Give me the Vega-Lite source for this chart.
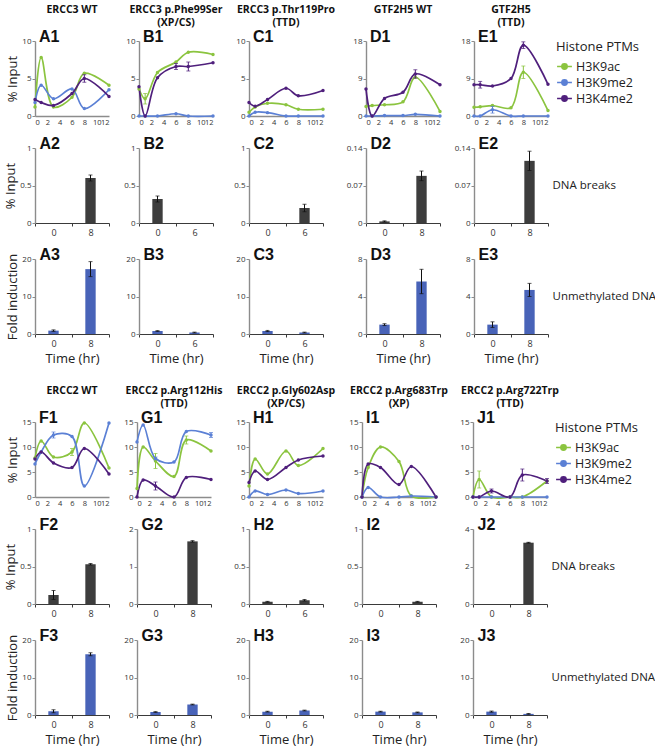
{
"$schema":"https://vega.github.io/schema/vega-lite/v6.json",
"background":"white",
"padding":{"left":4,"top":4,"right":0,"bottom":0},
"datasets":{
"lines":[
{"panel":"A1","series":"H3K9ac","t":0,"v":1.2},{"panel":"A1","series":"H3K9ac","t":1,"v":7.8},{"panel":"A1","series":"H3K9ac","t":3,"v":1.2},{"panel":"A1","series":"H3K9ac","t":6,"v":2.5},{"panel":"A1","series":"H3K9ac","t":8,"v":5.7},{"panel":"A1","series":"H3K9ac","t":12,"v":4.1},
{"panel":"A1","series":"H3K9me2","t":0,"v":1.8},{"panel":"A1","series":"H3K9me2","t":1,"v":4.1},{"panel":"A1","series":"H3K9me2","t":3,"v":2.3},{"panel":"A1","series":"H3K9me2","t":6,"v":3.6},{"panel":"A1","series":"H3K9me2","t":8,"v":1.0},{"panel":"A1","series":"H3K9me2","t":12,"v":3.5},
{"panel":"A1","series":"H3K4me2","t":0,"v":2.2},{"panel":"A1","series":"H3K4me2","t":1,"v":1.8},{"panel":"A1","series":"H3K4me2","t":3,"v":1.4},{"panel":"A1","series":"H3K4me2","t":6,"v":3.0},{"panel":"A1","series":"H3K4me2","t":8,"v":5.0,"err":0.5},{"panel":"A1","series":"H3K4me2","t":12,"v":2.6},
{"panel":"B1","series":"H3K9ac","t":0,"v":3.6},{"panel":"B1","series":"H3K9ac","t":1,"v":2.3,"err":0.7},{"panel":"B1","series":"H3K9ac","t":3,"v":5.8},{"panel":"B1","series":"H3K9ac","t":6,"v":7.2},{"panel":"B1","series":"H3K9ac","t":8,"v":8.5},{"panel":"B1","series":"H3K9ac","t":12,"v":8.2},
{"panel":"B1","series":"H3K9me2","t":0,"v":0},{"panel":"B1","series":"H3K9me2","t":1,"v":0},{"panel":"B1","series":"H3K9me2","t":3,"v":0},{"panel":"B1","series":"H3K9me2","t":6,"v":0.3},{"panel":"B1","series":"H3K9me2","t":8,"v":0},{"panel":"B1","series":"H3K9me2","t":12,"v":0},
{"panel":"B1","series":"H3K4me2","t":0,"v":3.9},{"panel":"B1","series":"H3K4me2","t":1,"v":0},{"panel":"B1","series":"H3K4me2","t":3,"v":5.1},{"panel":"B1","series":"H3K4me2","t":6,"v":6.6,"err":0.4},{"panel":"B1","series":"H3K4me2","t":8,"v":6.6,"err":0.6},{"panel":"B1","series":"H3K4me2","t":12,"v":7.1},
{"panel":"C1","series":"H3K9ac","t":0,"v":0.5},{"panel":"C1","series":"H3K9ac","t":1,"v":1.2},{"panel":"C1","series":"H3K9ac","t":3,"v":1.7},{"panel":"C1","series":"H3K9ac","t":6,"v":1.5},{"panel":"C1","series":"H3K9ac","t":8,"v":0.9},{"panel":"C1","series":"H3K9ac","t":12,"v":0.9},
{"panel":"C1","series":"H3K9me2","t":0,"v":0},{"panel":"C1","series":"H3K9me2","t":1,"v":0.5},{"panel":"C1","series":"H3K9me2","t":3,"v":0.45},{"panel":"C1","series":"H3K9me2","t":6,"v":0},{"panel":"C1","series":"H3K9me2","t":8,"v":0},{"panel":"C1","series":"H3K9me2","t":12,"v":0},
{"panel":"C1","series":"H3K4me2","t":0,"v":1.8},{"panel":"C1","series":"H3K4me2","t":1,"v":1.3},{"panel":"C1","series":"H3K4me2","t":3,"v":2.2},{"panel":"C1","series":"H3K4me2","t":6,"v":3.7},{"panel":"C1","series":"H3K4me2","t":8,"v":2.7},{"panel":"C1","series":"H3K4me2","t":12,"v":3.4},
{"panel":"D1","series":"H3K9ac","t":0,"v":2.3},{"panel":"D1","series":"H3K9ac","t":1,"v":2.5},{"panel":"D1","series":"H3K9ac","t":3,"v":2.7},{"panel":"D1","series":"H3K9ac","t":6,"v":3.4},{"panel":"D1","series":"H3K9ac","t":8,"v":9.3},{"panel":"D1","series":"H3K9ac","t":12,"v":1.1},
{"panel":"D1","series":"H3K9me2","t":0,"v":0},{"panel":"D1","series":"H3K9me2","t":1,"v":0},{"panel":"D1","series":"H3K9me2","t":3,"v":0.1},{"panel":"D1","series":"H3K9me2","t":6,"v":0.1},{"panel":"D1","series":"H3K9me2","t":8,"v":0.4},{"panel":"D1","series":"H3K9me2","t":12,"v":0},
{"panel":"D1","series":"H3K4me2","t":0,"v":6.5},{"panel":"D1","series":"H3K4me2","t":1,"v":0},{"panel":"D1","series":"H3K4me2","t":3,"v":4.2},{"panel":"D1","series":"H3K4me2","t":6,"v":5.7},{"panel":"D1","series":"H3K4me2","t":8,"v":10.1,"err":1.0},{"panel":"D1","series":"H3K4me2","t":12,"v":7.5},
{"panel":"E1","series":"H3K9ac","t":0,"v":2.1},{"panel":"E1","series":"H3K9ac","t":1,"v":2.2},{"panel":"E1","series":"H3K9ac","t":3,"v":2.5},{"panel":"E1","series":"H3K9ac","t":6,"v":2.0},{"panel":"E1","series":"H3K9ac","t":8,"v":10.5,"err":1.5},{"panel":"E1","series":"H3K9ac","t":12,"v":1.3},
{"panel":"E1","series":"H3K9me2","t":0,"v":0},{"panel":"E1","series":"H3K9me2","t":1,"v":0},{"panel":"E1","series":"H3K9me2","t":3,"v":1.5,"err":0.8},{"panel":"E1","series":"H3K9me2","t":6,"v":0},{"panel":"E1","series":"H3K9me2","t":8,"v":0},{"panel":"E1","series":"H3K9me2","t":12,"v":0},
{"panel":"E1","series":"H3K4me2","t":0,"v":7.5},{"panel":"E1","series":"H3K4me2","t":1,"v":7.5,"err":0.8},{"panel":"E1","series":"H3K4me2","t":3,"v":7.2},{"panel":"E1","series":"H3K4me2","t":6,"v":9.0},{"panel":"E1","series":"H3K4me2","t":8,"v":17.0,"err":0.8},{"panel":"E1","series":"H3K4me2","t":12,"v":7.6},
{"panel":"F1","series":"H3K9ac","t":0,"v":7.8},{"panel":"F1","series":"H3K9ac","t":1,"v":11.2},{"panel":"F1","series":"H3K9ac","t":3,"v":8.0},{"panel":"F1","series":"H3K9ac","t":6,"v":9.0,"err":0.7},{"panel":"F1","series":"H3K9ac","t":8,"v":14.8},{"panel":"F1","series":"H3K9ac","t":12,"v":5.8},
{"panel":"F1","series":"H3K9me2","t":0,"v":6.6},{"panel":"F1","series":"H3K9me2","t":1,"v":9.0},{"panel":"F1","series":"H3K9me2","t":3,"v":12.4,"err":0.6},{"panel":"F1","series":"H3K9me2","t":6,"v":12.1},{"panel":"F1","series":"H3K9me2","t":8,"v":2.2},{"panel":"F1","series":"H3K9me2","t":12,"v":14.8},
{"panel":"F1","series":"H3K4me2","t":0,"v":7.6},{"panel":"F1","series":"H3K4me2","t":1,"v":9.0},{"panel":"F1","series":"H3K4me2","t":3,"v":6.8},{"panel":"F1","series":"H3K4me2","t":6,"v":5.9},{"panel":"F1","series":"H3K4me2","t":8,"v":9.7},{"panel":"F1","series":"H3K4me2","t":12,"v":4.6},
{"panel":"G1","series":"H3K9ac","t":0,"v":1.7},{"panel":"G1","series":"H3K9ac","t":1,"v":10.0},{"panel":"G1","series":"H3K9ac","t":3,"v":7.2,"err":1.5},{"panel":"G1","series":"H3K9ac","t":6,"v":4.1},{"panel":"G1","series":"H3K9ac","t":8,"v":11.4,"err":0.8},{"panel":"G1","series":"H3K9ac","t":12,"v":9.2},
{"panel":"G1","series":"H3K9me2","t":0,"v":11.0},{"panel":"G1","series":"H3K9me2","t":1,"v":14.4},{"panel":"G1","series":"H3K9me2","t":3,"v":7.7,"err":0.3},{"panel":"G1","series":"H3K9me2","t":6,"v":7.0},{"panel":"G1","series":"H3K9me2","t":8,"v":13.1},{"panel":"G1","series":"H3K9me2","t":12,"v":12.4,"err":0.5},
{"panel":"G1","series":"H3K4me2","t":0,"v":0},{"panel":"G1","series":"H3K4me2","t":1,"v":3.4},{"panel":"G1","series":"H3K4me2","t":3,"v":2.2,"err":0.8},{"panel":"G1","series":"H3K4me2","t":6,"v":0},{"panel":"G1","series":"H3K4me2","t":8,"v":3.9},{"panel":"G1","series":"H3K4me2","t":12,"v":3.5},
{"panel":"H1","series":"H3K9ac","t":0,"v":2.2},{"panel":"H1","series":"H3K9ac","t":1,"v":7.6},{"panel":"H1","series":"H3K9ac","t":3,"v":4.6},{"panel":"H1","series":"H3K9ac","t":6,"v":9.2},{"panel":"H1","series":"H3K9ac","t":8,"v":6.3},{"panel":"H1","series":"H3K9ac","t":12,"v":9.7},
{"panel":"H1","series":"H3K9me2","t":0,"v":0},{"panel":"H1","series":"H3K9me2","t":1,"v":1.2},{"panel":"H1","series":"H3K9me2","t":3,"v":0.5},{"panel":"H1","series":"H3K9me2","t":6,"v":1.4},{"panel":"H1","series":"H3K9me2","t":8,"v":0.7},{"panel":"H1","series":"H3K9me2","t":12,"v":1.2},
{"panel":"H1","series":"H3K4me2","t":0,"v":2.9},{"panel":"H1","series":"H3K4me2","t":1,"v":5.2},{"panel":"H1","series":"H3K4me2","t":3,"v":3.5},{"panel":"H1","series":"H3K4me2","t":6,"v":5.9},{"panel":"H1","series":"H3K4me2","t":8,"v":7.4},{"panel":"H1","series":"H3K4me2","t":12,"v":8.2},
{"panel":"I1","series":"H3K9ac","t":0,"v":0},{"panel":"I1","series":"H3K9ac","t":1,"v":5.9},{"panel":"I1","series":"H3K9ac","t":3,"v":10.0},{"panel":"I1","series":"H3K9ac","t":6,"v":7.1},{"panel":"I1","series":"H3K9ac","t":8,"v":0.2},{"panel":"I1","series":"H3K9ac","t":12,"v":0},
{"panel":"I1","series":"H3K9me2","t":0,"v":0},{"panel":"I1","series":"H3K9me2","t":1,"v":1.9},{"panel":"I1","series":"H3K9me2","t":3,"v":0},{"panel":"I1","series":"H3K9me2","t":6,"v":0},{"panel":"I1","series":"H3K9me2","t":8,"v":0.2},{"panel":"I1","series":"H3K9me2","t":12,"v":0},
{"panel":"I1","series":"H3K4me2","t":0,"v":0},{"panel":"I1","series":"H3K4me2","t":1,"v":6.6},{"panel":"I1","series":"H3K4me2","t":3,"v":5.9},{"panel":"I1","series":"H3K4me2","t":6,"v":2.5},{"panel":"I1","series":"H3K4me2","t":8,"v":6.1},{"panel":"I1","series":"H3K4me2","t":12,"v":0},
{"panel":"J1","series":"H3K9ac","t":0,"v":0},{"panel":"J1","series":"H3K9ac","t":1,"v":3.5,"err":1.7},{"panel":"J1","series":"H3K9ac","t":3,"v":0},{"panel":"J1","series":"H3K9ac","t":6,"v":0},{"panel":"J1","series":"H3K9ac","t":8,"v":0},{"panel":"J1","series":"H3K9ac","t":12,"v":3.2},
{"panel":"J1","series":"H3K9me2","t":0,"v":0},{"panel":"J1","series":"H3K9me2","t":1,"v":0},{"panel":"J1","series":"H3K9me2","t":3,"v":0},{"panel":"J1","series":"H3K9me2","t":6,"v":0},{"panel":"J1","series":"H3K9me2","t":8,"v":0},{"panel":"J1","series":"H3K9me2","t":12,"v":0},
{"panel":"J1","series":"H3K4me2","t":0,"v":0},{"panel":"J1","series":"H3K4me2","t":1,"v":0},{"panel":"J1","series":"H3K4me2","t":3,"v":1.2,"err":0.4},{"panel":"J1","series":"H3K4me2","t":6,"v":0},{"panel":"J1","series":"H3K4me2","t":8,"v":4.4,"err":1.2},{"panel":"J1","series":"H3K4me2","t":12,"v":3.2,"err":0.5}
],
"bars":[
{"panel":"A2","cat":"0","v":0},{"panel":"A2","cat":"8","v":0.6,"err":0.04},
{"panel":"B2","cat":"0","v":0.32,"err":0.04},{"panel":"B2","cat":"6","v":0},
{"panel":"C2","cat":"0","v":0},{"panel":"C2","cat":"6","v":0.2,"err":0.05},
{"panel":"D2","cat":"0","v":0.003,"err":0.001},{"panel":"D2","cat":"8","v":0.088,"err":0.009},
{"panel":"E2","cat":"0","v":0},{"panel":"E2","cat":"8","v":0.116,"err":0.018},
{"panel":"A3","cat":"0","v":0.9,"err":0.2},{"panel":"A3","cat":"8","v":17.3,"err":2.0},
{"panel":"B3","cat":"0","v":0.8,"err":0.1},{"panel":"B3","cat":"6","v":0.4,"err":0.1},
{"panel":"C3","cat":"0","v":0.8,"err":0.15},{"panel":"C3","cat":"6","v":0.4,"err":0.1},
{"panel":"D3","cat":"0","v":1.0,"err":0.1},{"panel":"D3","cat":"8","v":5.6,"err":1.3},
{"panel":"E3","cat":"0","v":1.0,"err":0.3},{"panel":"E3","cat":"8","v":4.7,"err":0.7},
{"panel":"F2","cat":"0","v":0.12,"err":0.06},{"panel":"F2","cat":"8","v":0.53,"err":0.01},
{"panel":"G2","cat":"0","v":0},{"panel":"G2","cat":"8","v":1.67,"err":0.02},
{"panel":"H2","cat":"0","v":0.03,"err":0.005},{"panel":"H2","cat":"6","v":0.05,"err":0.01},
{"panel":"I2","cat":"0","v":0},{"panel":"I2","cat":"8","v":0.03,"err":0.005},
{"panel":"J2","cat":"0","v":0},{"panel":"J2","cat":"8","v":3.27,"err":0.02},
{"panel":"F3","cat":"0","v":1.0,"err":0.4},{"panel":"F3","cat":"8","v":16.2,"err":0.4},
{"panel":"G3","cat":"0","v":0.8,"err":0.1},{"panel":"G3","cat":"8","v":2.8,"err":0.1},
{"panel":"H3","cat":"0","v":0.9,"err":0.1},{"panel":"H3","cat":"6","v":1.2,"err":0.1},
{"panel":"I3","cat":"0","v":0.9,"err":0.1},{"panel":"I3","cat":"8","v":0.7,"err":0.1},
{"panel":"J3","cat":"0","v":0.9,"err":0.15},{"panel":"J3","cat":"8","v":0.3,"err":0.1}
]
},
"vconcat":[
{"columns":5,"spacing":{"row":10,"column":10},"align":"each","resolve":{"scale":{"color":"independent"}},
"concat":[
{"width":74,"height":75,"title":{"text":["ERCC3 WT",""]},"data":{"name":"lines"},"transform":[{"filter":{"field":"panel","equal":"A1"}}],
"encoding":{"x":{"field":"t","type":"quantitative","scale":{"domain":[0,12]},"axis":{"values":[0,2,4,6,8,10,12],"title":null,"ticks":false,"labelPadding":2,"labelOverlap":false,"labelFontSize":7.5}},"y":{"field":"v","type":"quantitative","scale":{"domain":[0,10],"nice":false},"axis":{"values":[0,5,10],"title":"% Input"}},"color":{"field":"series","type":"nominal","scale":{"domain":["H3K9ac","H3K9me2","H3K4me2"],"range":["#8bc43f","#5b80d5","#4f1f7c"]},"legend":null}},
"layer":[{"mark":"line"},{"mark":"point"},{"transform":[{"filter":"datum.err > 0"}],"mark":{"type":"errorbar","ticks":true,"size":4,"thickness":1},"encoding":{"yError":{"field":"err"}}},{"transform":[{"filter":"datum.t === 0 && datum.series === 'H3K9ac'"}],"mark":{"type":"text","dx":4,"dy":1,"font":"Liberation Sans","fontSize":16,"fontWeight":"bold","align":"left","baseline":"alphabetic"},"encoding":{"x":{"datum":0},"y":{"datum":10},"text":{"value":"A1"},"color":{"value":"#111"}}}]},
{"width":74,"height":75,"title":{"text":["ERCC3 p.Phe99Ser","(XP/CS)"]},"data":{"name":"lines"},"transform":[{"filter":{"field":"panel","equal":"B1"}}],
"encoding":{"x":{"field":"t","type":"quantitative","scale":{"domain":[0,12]},"axis":{"values":[0,2,4,6,8,10,12],"title":null,"ticks":false,"labelPadding":2,"labelOverlap":false,"labelFontSize":7.5}},"y":{"field":"v","type":"quantitative","scale":{"domain":[0,10],"nice":false},"axis":{"values":[0,5,10],"title":null}},"color":{"field":"series","type":"nominal","scale":{"domain":["H3K9ac","H3K9me2","H3K4me2"],"range":["#8bc43f","#5b80d5","#4f1f7c"]},"legend":null}},
"layer":[{"mark":"line"},{"mark":"point"},{"transform":[{"filter":"datum.err > 0"}],"mark":{"type":"errorbar","ticks":true,"size":4,"thickness":1},"encoding":{"yError":{"field":"err"}}},{"transform":[{"filter":"datum.t === 0 && datum.series === 'H3K9ac'"}],"mark":{"type":"text","dx":4,"dy":1,"font":"Liberation Sans","fontSize":16,"fontWeight":"bold","align":"left","baseline":"alphabetic"},"encoding":{"x":{"datum":0},"y":{"datum":10},"text":{"value":"B1"},"color":{"value":"#111"}}}]},
{"width":74,"height":75,"title":{"text":["ERCC3 p.Thr119Pro","(TTD)"]},"data":{"name":"lines"},"transform":[{"filter":{"field":"panel","equal":"C1"}}],
"encoding":{"x":{"field":"t","type":"quantitative","scale":{"domain":[0,12]},"axis":{"values":[0,2,4,6,8,10,12],"title":null,"ticks":false,"labelPadding":2,"labelOverlap":false,"labelFontSize":7.5}},"y":{"field":"v","type":"quantitative","scale":{"domain":[0,10],"nice":false},"axis":{"values":[0,5,10],"title":null}},"color":{"field":"series","type":"nominal","scale":{"domain":["H3K9ac","H3K9me2","H3K4me2"],"range":["#8bc43f","#5b80d5","#4f1f7c"]},"legend":null}},
"layer":[{"mark":"line"},{"mark":"point"},{"transform":[{"filter":"datum.err > 0"}],"mark":{"type":"errorbar","ticks":true,"size":4,"thickness":1},"encoding":{"yError":{"field":"err"}}},{"transform":[{"filter":"datum.t === 0 && datum.series === 'H3K9ac'"}],"mark":{"type":"text","dx":4,"dy":1,"font":"Liberation Sans","fontSize":16,"fontWeight":"bold","align":"left","baseline":"alphabetic"},"encoding":{"x":{"datum":0},"y":{"datum":10},"text":{"value":"C1"},"color":{"value":"#111"}}}]},
{"width":74,"height":75,"title":{"text":["GTF2H5 WT",""]},"data":{"name":"lines"},"transform":[{"filter":{"field":"panel","equal":"D1"}}],
"encoding":{"x":{"field":"t","type":"quantitative","scale":{"domain":[0,12]},"axis":{"values":[0,2,4,6,8,10,12],"title":null,"ticks":false,"labelPadding":2,"labelOverlap":false,"labelFontSize":7.5}},"y":{"field":"v","type":"quantitative","scale":{"domain":[0,18],"nice":false},"axis":{"values":[0,9,18],"title":null}},"color":{"field":"series","type":"nominal","scale":{"domain":["H3K9ac","H3K9me2","H3K4me2"],"range":["#8bc43f","#5b80d5","#4f1f7c"]},"legend":null}},
"layer":[{"mark":"line"},{"mark":"point"},{"transform":[{"filter":"datum.err > 0"}],"mark":{"type":"errorbar","ticks":true,"size":4,"thickness":1},"encoding":{"yError":{"field":"err"}}},{"transform":[{"filter":"datum.t === 0 && datum.series === 'H3K9ac'"}],"mark":{"type":"text","dx":4,"dy":1,"font":"Liberation Sans","fontSize":16,"fontWeight":"bold","align":"left","baseline":"alphabetic"},"encoding":{"x":{"datum":0},"y":{"datum":18},"text":{"value":"D1"},"color":{"value":"#111"}}}]},
{"width":74,"height":75,"title":{"text":["GTF2H5","(TTD)"]},"data":{"name":"lines"},"transform":[{"filter":{"field":"panel","equal":"E1"}}],
"encoding":{"x":{"field":"t","type":"quantitative","scale":{"domain":[0,12]},"axis":{"values":[0,2,4,6,8,10,12],"title":null,"ticks":false,"labelPadding":2,"labelOverlap":false,"labelFontSize":7.5}},"y":{"field":"v","type":"quantitative","scale":{"domain":[0,18],"nice":false},"axis":{"values":[0,9,18],"title":null}},"color":{"field":"series","type":"nominal","scale":{"domain":["H3K9ac","H3K9me2","H3K4me2"],"range":["#8bc43f","#5b80d5","#4f1f7c"]},"legend":{"title":"Histone PTMs"}}},
"layer":[{"mark":"line"},{"mark":"point"},{"transform":[{"filter":"datum.err > 0"}],"mark":{"type":"errorbar","ticks":true,"size":4,"thickness":1},"encoding":{"yError":{"field":"err"}}},{"transform":[{"filter":"datum.t === 0 && datum.series === 'H3K9ac'"}],"mark":{"type":"text","dx":4,"dy":1,"font":"Liberation Sans","fontSize":16,"fontWeight":"bold","align":"left","baseline":"alphabetic"},"encoding":{"x":{"datum":0},"y":{"datum":18},"text":{"value":"E1"},"color":{"value":"#111"}}}]},

{"width":74,"height":75,"data":{"name":"bars"},"transform":[{"filter":{"field":"panel","equal":"A2"}}],
"encoding":{"x":{"field":"cat","type":"nominal","scale":{"paddingInner":0,"paddingOuter":0},"axis":{"title":null}},"y":{"field":"v","type":"quantitative","scale":{"domain":[0,1],"nice":false},"axis":{"values":[0,0.5,1],"labelExpr":"'' + datum.value","title":"% Input"}}},
"layer":[{"mark":{"type":"bar","width":{"band":0.28},"color":"#3d3d3d"}},{"transform":[{"filter":"datum.err > 0"}],"mark":{"type":"errorbar","ticks":true,"size":4,"thickness":1,"color":"#111"},"encoding":{"yError":{"field":"err"}}},{"transform":[{"filter":"datum.cat === '0'"}],"mark":{"type":"text","dx":-14,"dy":1,"font":"Liberation Sans","fontSize":16,"fontWeight":"bold","align":"left","baseline":"alphabetic","color":"#111"},"encoding":{"x":{"datum":"0"},"y":{"datum":1},"text":{"value":"A2"}}}]},
{"width":74,"height":75,"data":{"name":"bars"},"transform":[{"filter":{"field":"panel","equal":"B2"}}],
"encoding":{"x":{"field":"cat","type":"nominal","scale":{"paddingInner":0,"paddingOuter":0},"axis":{"title":null}},"y":{"field":"v","type":"quantitative","scale":{"domain":[0,1],"nice":false},"axis":{"values":[0,0.5,1],"labelExpr":"'' + datum.value","title":null}}},
"layer":[{"mark":{"type":"bar","width":{"band":0.28},"color":"#3d3d3d"}},{"transform":[{"filter":"datum.err > 0"}],"mark":{"type":"errorbar","ticks":true,"size":4,"thickness":1,"color":"#111"},"encoding":{"yError":{"field":"err"}}},{"transform":[{"filter":"datum.cat === '0'"}],"mark":{"type":"text","dx":-14,"dy":1,"font":"Liberation Sans","fontSize":16,"fontWeight":"bold","align":"left","baseline":"alphabetic","color":"#111"},"encoding":{"x":{"datum":"0"},"y":{"datum":1},"text":{"value":"B2"}}}]},
{"width":74,"height":75,"data":{"name":"bars"},"transform":[{"filter":{"field":"panel","equal":"C2"}}],
"encoding":{"x":{"field":"cat","type":"nominal","scale":{"paddingInner":0,"paddingOuter":0},"axis":{"title":null}},"y":{"field":"v","type":"quantitative","scale":{"domain":[0,1],"nice":false},"axis":{"values":[0,0.5,1],"labelExpr":"'' + datum.value","title":null}}},
"layer":[{"mark":{"type":"bar","width":{"band":0.28},"color":"#3d3d3d"}},{"transform":[{"filter":"datum.err > 0"}],"mark":{"type":"errorbar","ticks":true,"size":4,"thickness":1,"color":"#111"},"encoding":{"yError":{"field":"err"}}},{"transform":[{"filter":"datum.cat === '0'"}],"mark":{"type":"text","dx":-14,"dy":1,"font":"Liberation Sans","fontSize":16,"fontWeight":"bold","align":"left","baseline":"alphabetic","color":"#111"},"encoding":{"x":{"datum":"0"},"y":{"datum":1},"text":{"value":"C2"}}}]},
{"width":74,"height":75,"data":{"name":"bars"},"transform":[{"filter":{"field":"panel","equal":"D2"}}],
"encoding":{"x":{"field":"cat","type":"nominal","scale":{"paddingInner":0,"paddingOuter":0},"axis":{"title":null}},"y":{"field":"v","type":"quantitative","scale":{"domain":[0,0.14],"nice":false},"axis":{"values":[0,0.07,0.14],"labelExpr":"'' + datum.value","title":null}}},
"layer":[{"mark":{"type":"bar","width":{"band":0.28},"color":"#3d3d3d"}},{"transform":[{"filter":"datum.err > 0"}],"mark":{"type":"errorbar","ticks":true,"size":4,"thickness":1,"color":"#111"},"encoding":{"yError":{"field":"err"}}},{"transform":[{"filter":"datum.cat === '0'"}],"mark":{"type":"text","dx":-14,"dy":1,"font":"Liberation Sans","fontSize":16,"fontWeight":"bold","align":"left","baseline":"alphabetic","color":"#111"},"encoding":{"x":{"datum":"0"},"y":{"datum":0.14},"text":{"value":"D2"}}}]},
{"width":74,"height":75,"title":{"text":"DNA breaks","orient":"right","angle":0,"align":"right","baseline":"middle","anchor":"middle","offset":4,"fontSize":11.5,"fontWeight":"normal","color":"#222"},"data":{"name":"bars"},"transform":[{"filter":{"field":"panel","equal":"E2"}}],
"encoding":{"x":{"field":"cat","type":"nominal","scale":{"paddingInner":0,"paddingOuter":0},"axis":{"title":null}},"y":{"field":"v","type":"quantitative","scale":{"domain":[0,0.14],"nice":false},"axis":{"values":[0,0.07,0.14],"labelExpr":"'' + datum.value","title":null}}},
"layer":[{"mark":{"type":"bar","width":{"band":0.28},"color":"#3d3d3d"}},{"transform":[{"filter":"datum.err > 0"}],"mark":{"type":"errorbar","ticks":true,"size":4,"thickness":1,"color":"#111"},"encoding":{"yError":{"field":"err"}}},{"transform":[{"filter":"datum.cat === '0'"}],"mark":{"type":"text","dx":-14,"dy":1,"font":"Liberation Sans","fontSize":16,"fontWeight":"bold","align":"left","baseline":"alphabetic","color":"#111"},"encoding":{"x":{"datum":"0"},"y":{"datum":0.14},"text":{"value":"E2"}}}]},

{"width":74,"height":75,"data":{"name":"bars"},"transform":[{"filter":{"field":"panel","equal":"A3"}}],
"encoding":{"x":{"field":"cat","type":"nominal","scale":{"paddingInner":0,"paddingOuter":0},"axis":{"title":"Time (hr)","titlePadding":4}},"y":{"field":"v","type":"quantitative","scale":{"domain":[0,20],"nice":false},"axis":{"values":[0,10,20],"labelExpr":"'' + datum.value","title":"Fold induction"}}},
"layer":[{"mark":{"type":"bar","width":{"band":0.28},"color":"#4863b8"}},{"transform":[{"filter":"datum.err > 0"}],"mark":{"type":"errorbar","ticks":true,"size":4,"thickness":1,"color":"#111"},"encoding":{"yError":{"field":"err"}}},{"transform":[{"filter":"datum.cat === '0'"}],"mark":{"type":"text","dx":-14,"dy":1,"font":"Liberation Sans","fontSize":16,"fontWeight":"bold","align":"left","baseline":"alphabetic","color":"#111"},"encoding":{"x":{"datum":"0"},"y":{"datum":20},"text":{"value":"A3"}}}]},
{"width":74,"height":75,"data":{"name":"bars"},"transform":[{"filter":{"field":"panel","equal":"B3"}}],
"encoding":{"x":{"field":"cat","type":"nominal","scale":{"paddingInner":0,"paddingOuter":0},"axis":{"title":"Time (hr)","titlePadding":4}},"y":{"field":"v","type":"quantitative","scale":{"domain":[0,20],"nice":false},"axis":{"values":[0,10,20],"labelExpr":"'' + datum.value","title":null}}},
"layer":[{"mark":{"type":"bar","width":{"band":0.28},"color":"#4863b8"}},{"transform":[{"filter":"datum.err > 0"}],"mark":{"type":"errorbar","ticks":true,"size":4,"thickness":1,"color":"#111"},"encoding":{"yError":{"field":"err"}}},{"transform":[{"filter":"datum.cat === '0'"}],"mark":{"type":"text","dx":-14,"dy":1,"font":"Liberation Sans","fontSize":16,"fontWeight":"bold","align":"left","baseline":"alphabetic","color":"#111"},"encoding":{"x":{"datum":"0"},"y":{"datum":20},"text":{"value":"B3"}}}]},
{"width":74,"height":75,"data":{"name":"bars"},"transform":[{"filter":{"field":"panel","equal":"C3"}}],
"encoding":{"x":{"field":"cat","type":"nominal","scale":{"paddingInner":0,"paddingOuter":0},"axis":{"title":"Time (hr)","titlePadding":4}},"y":{"field":"v","type":"quantitative","scale":{"domain":[0,20],"nice":false},"axis":{"values":[0,10,20],"labelExpr":"'' + datum.value","title":null}}},
"layer":[{"mark":{"type":"bar","width":{"band":0.28},"color":"#4863b8"}},{"transform":[{"filter":"datum.err > 0"}],"mark":{"type":"errorbar","ticks":true,"size":4,"thickness":1,"color":"#111"},"encoding":{"yError":{"field":"err"}}},{"transform":[{"filter":"datum.cat === '0'"}],"mark":{"type":"text","dx":-14,"dy":1,"font":"Liberation Sans","fontSize":16,"fontWeight":"bold","align":"left","baseline":"alphabetic","color":"#111"},"encoding":{"x":{"datum":"0"},"y":{"datum":20},"text":{"value":"C3"}}}]},
{"width":74,"height":75,"data":{"name":"bars"},"transform":[{"filter":{"field":"panel","equal":"D3"}}],
"encoding":{"x":{"field":"cat","type":"nominal","scale":{"paddingInner":0,"paddingOuter":0},"axis":{"title":"Time (hr)","titlePadding":4}},"y":{"field":"v","type":"quantitative","scale":{"domain":[0,8],"nice":false},"axis":{"values":[0,4,8],"labelExpr":"'' + datum.value","title":null}}},
"layer":[{"mark":{"type":"bar","width":{"band":0.28},"color":"#4863b8"}},{"transform":[{"filter":"datum.err > 0"}],"mark":{"type":"errorbar","ticks":true,"size":4,"thickness":1,"color":"#111"},"encoding":{"yError":{"field":"err"}}},{"transform":[{"filter":"datum.cat === '0'"}],"mark":{"type":"text","dx":-14,"dy":1,"font":"Liberation Sans","fontSize":16,"fontWeight":"bold","align":"left","baseline":"alphabetic","color":"#111"},"encoding":{"x":{"datum":"0"},"y":{"datum":8},"text":{"value":"D3"}}}]},
{"width":74,"height":75,"title":{"text":"Unmethylated DNA","orient":"right","angle":0,"align":"right","baseline":"middle","anchor":"middle","offset":4,"fontSize":11.5,"fontWeight":"normal","color":"#222"},"data":{"name":"bars"},"transform":[{"filter":{"field":"panel","equal":"E3"}}],
"encoding":{"x":{"field":"cat","type":"nominal","scale":{"paddingInner":0,"paddingOuter":0},"axis":{"title":"Time (hr)","titlePadding":4}},"y":{"field":"v","type":"quantitative","scale":{"domain":[0,8],"nice":false},"axis":{"values":[0,4,8],"labelExpr":"'' + datum.value","title":null}}},
"layer":[{"mark":{"type":"bar","width":{"band":0.28},"color":"#4863b8"}},{"transform":[{"filter":"datum.err > 0"}],"mark":{"type":"errorbar","ticks":true,"size":4,"thickness":1,"color":"#111"},"encoding":{"yError":{"field":"err"}}},{"transform":[{"filter":"datum.cat === '0'"}],"mark":{"type":"text","dx":-14,"dy":1,"font":"Liberation Sans","fontSize":16,"fontWeight":"bold","align":"left","baseline":"alphabetic","color":"#111"},"encoding":{"x":{"datum":"0"},"y":{"datum":8},"text":{"value":"E3"}}}]}
]},
{"columns":5,"spacing":{"row":10,"column":10},"align":"each","resolve":{"scale":{"color":"independent"}},
"concat":[
{"width":74,"height":75,"title":{"text":["ERCC2 WT",""]},"data":{"name":"lines"},"transform":[{"filter":{"field":"panel","equal":"F1"}}],
"encoding":{"x":{"field":"t","type":"quantitative","scale":{"domain":[0,12]},"axis":{"values":[0,2,4,6,8,10,12],"title":null,"ticks":false,"labelPadding":2,"labelOverlap":false,"labelFontSize":7.5}},"y":{"field":"v","type":"quantitative","scale":{"domain":[0,15],"nice":false},"axis":{"values":[0,5,10,15],"title":"% Input"}},"color":{"field":"series","type":"nominal","scale":{"domain":["H3K9ac","H3K9me2","H3K4me2"],"range":["#8bc43f","#5b80d5","#4f1f7c"]},"legend":null}},
"layer":[{"mark":"line"},{"mark":"point"},{"transform":[{"filter":"datum.err > 0"}],"mark":{"type":"errorbar","ticks":true,"size":4,"thickness":1},"encoding":{"yError":{"field":"err"}}},{"transform":[{"filter":"datum.t === 0 && datum.series === 'H3K9ac'"}],"mark":{"type":"text","dx":4,"dy":1,"font":"Liberation Sans","fontSize":16,"fontWeight":"bold","align":"left","baseline":"alphabetic"},"encoding":{"x":{"datum":0},"y":{"datum":15},"text":{"value":"F1"},"color":{"value":"#111"}}}]},
{"width":74,"height":75,"title":{"text":["ERCC2 p.Arg112His","(TTD)"]},"data":{"name":"lines"},"transform":[{"filter":{"field":"panel","equal":"G1"}}],
"encoding":{"x":{"field":"t","type":"quantitative","scale":{"domain":[0,12]},"axis":{"values":[0,2,4,6,8,10,12],"title":null,"ticks":false,"labelPadding":2,"labelOverlap":false,"labelFontSize":7.5}},"y":{"field":"v","type":"quantitative","scale":{"domain":[0,15],"nice":false},"axis":{"values":[0,5,10,15],"title":null}},"color":{"field":"series","type":"nominal","scale":{"domain":["H3K9ac","H3K9me2","H3K4me2"],"range":["#8bc43f","#5b80d5","#4f1f7c"]},"legend":null}},
"layer":[{"mark":"line"},{"mark":"point"},{"transform":[{"filter":"datum.err > 0"}],"mark":{"type":"errorbar","ticks":true,"size":4,"thickness":1},"encoding":{"yError":{"field":"err"}}},{"transform":[{"filter":"datum.t === 0 && datum.series === 'H3K9ac'"}],"mark":{"type":"text","dx":4,"dy":1,"font":"Liberation Sans","fontSize":16,"fontWeight":"bold","align":"left","baseline":"alphabetic"},"encoding":{"x":{"datum":0},"y":{"datum":15},"text":{"value":"G1"},"color":{"value":"#111"}}}]},
{"width":74,"height":75,"title":{"text":["ERCC2 p.Gly602Asp","(XP/CS)"]},"data":{"name":"lines"},"transform":[{"filter":{"field":"panel","equal":"H1"}}],
"encoding":{"x":{"field":"t","type":"quantitative","scale":{"domain":[0,12]},"axis":{"values":[0,2,4,6,8,10,12],"title":null,"ticks":false,"labelPadding":2,"labelOverlap":false,"labelFontSize":7.5}},"y":{"field":"v","type":"quantitative","scale":{"domain":[0,15],"nice":false},"axis":{"values":[0,5,10,15],"title":null}},"color":{"field":"series","type":"nominal","scale":{"domain":["H3K9ac","H3K9me2","H3K4me2"],"range":["#8bc43f","#5b80d5","#4f1f7c"]},"legend":null}},
"layer":[{"mark":"line"},{"mark":"point"},{"transform":[{"filter":"datum.err > 0"}],"mark":{"type":"errorbar","ticks":true,"size":4,"thickness":1},"encoding":{"yError":{"field":"err"}}},{"transform":[{"filter":"datum.t === 0 && datum.series === 'H3K9ac'"}],"mark":{"type":"text","dx":4,"dy":1,"font":"Liberation Sans","fontSize":16,"fontWeight":"bold","align":"left","baseline":"alphabetic"},"encoding":{"x":{"datum":0},"y":{"datum":15},"text":{"value":"H1"},"color":{"value":"#111"}}}]},
{"width":74,"height":75,"title":{"text":["ERCC2 p.Arg683Trp","(XP)"]},"data":{"name":"lines"},"transform":[{"filter":{"field":"panel","equal":"I1"}}],
"encoding":{"x":{"field":"t","type":"quantitative","scale":{"domain":[0,12]},"axis":{"values":[0,2,4,6,8,10,12],"title":null,"ticks":false,"labelPadding":2,"labelOverlap":false,"labelFontSize":7.5}},"y":{"field":"v","type":"quantitative","scale":{"domain":[0,15],"nice":false},"axis":{"values":[0,5,10,15],"title":null}},"color":{"field":"series","type":"nominal","scale":{"domain":["H3K9ac","H3K9me2","H3K4me2"],"range":["#8bc43f","#5b80d5","#4f1f7c"]},"legend":null}},
"layer":[{"mark":"line"},{"mark":"point"},{"transform":[{"filter":"datum.err > 0"}],"mark":{"type":"errorbar","ticks":true,"size":4,"thickness":1},"encoding":{"yError":{"field":"err"}}},{"transform":[{"filter":"datum.t === 0 && datum.series === 'H3K9ac'"}],"mark":{"type":"text","dx":4,"dy":1,"font":"Liberation Sans","fontSize":16,"fontWeight":"bold","align":"left","baseline":"alphabetic"},"encoding":{"x":{"datum":0},"y":{"datum":15},"text":{"value":"I1"},"color":{"value":"#111"}}}]},
{"width":74,"height":75,"title":{"text":["ERCC2 p.Arg722Trp","(TTD)"]},"data":{"name":"lines"},"transform":[{"filter":{"field":"panel","equal":"J1"}}],
"encoding":{"x":{"field":"t","type":"quantitative","scale":{"domain":[0,12]},"axis":{"values":[0,2,4,6,8,10,12],"title":null,"ticks":false,"labelPadding":2,"labelOverlap":false,"labelFontSize":7.5}},"y":{"field":"v","type":"quantitative","scale":{"domain":[0,15],"nice":false},"axis":{"values":[0,5,10,15],"title":null}},"color":{"field":"series","type":"nominal","scale":{"domain":["H3K9ac","H3K9me2","H3K4me2"],"range":["#8bc43f","#5b80d5","#4f1f7c"]},"legend":{"title":"Histone PTMs"}}},
"layer":[{"mark":"line"},{"mark":"point"},{"transform":[{"filter":"datum.err > 0"}],"mark":{"type":"errorbar","ticks":true,"size":4,"thickness":1},"encoding":{"yError":{"field":"err"}}},{"transform":[{"filter":"datum.t === 0 && datum.series === 'H3K9ac'"}],"mark":{"type":"text","dx":4,"dy":1,"font":"Liberation Sans","fontSize":16,"fontWeight":"bold","align":"left","baseline":"alphabetic"},"encoding":{"x":{"datum":0},"y":{"datum":15},"text":{"value":"J1"},"color":{"value":"#111"}}}]},

{"width":74,"height":75,"data":{"name":"bars"},"transform":[{"filter":{"field":"panel","equal":"F2"}}],
"encoding":{"x":{"field":"cat","type":"nominal","scale":{"paddingInner":0,"paddingOuter":0},"axis":{"title":null}},"y":{"field":"v","type":"quantitative","scale":{"domain":[0,1],"nice":false},"axis":{"values":[0,0.5,1],"labelExpr":"'' + datum.value","title":"% Input"}}},
"layer":[{"mark":{"type":"bar","width":{"band":0.28},"color":"#3d3d3d"}},{"transform":[{"filter":"datum.err > 0"}],"mark":{"type":"errorbar","ticks":true,"size":4,"thickness":1,"color":"#111"},"encoding":{"yError":{"field":"err"}}},{"transform":[{"filter":"datum.cat === '0'"}],"mark":{"type":"text","dx":-14,"dy":1,"font":"Liberation Sans","fontSize":16,"fontWeight":"bold","align":"left","baseline":"alphabetic","color":"#111"},"encoding":{"x":{"datum":"0"},"y":{"datum":1},"text":{"value":"F2"}}}]},
{"width":74,"height":75,"data":{"name":"bars"},"transform":[{"filter":{"field":"panel","equal":"G2"}}],
"encoding":{"x":{"field":"cat","type":"nominal","scale":{"paddingInner":0,"paddingOuter":0},"axis":{"title":null}},"y":{"field":"v","type":"quantitative","scale":{"domain":[0,2],"nice":false},"axis":{"values":[0,1,2],"labelExpr":"'' + datum.value","title":null}}},
"layer":[{"mark":{"type":"bar","width":{"band":0.28},"color":"#3d3d3d"}},{"transform":[{"filter":"datum.err > 0"}],"mark":{"type":"errorbar","ticks":true,"size":4,"thickness":1,"color":"#111"},"encoding":{"yError":{"field":"err"}}},{"transform":[{"filter":"datum.cat === '0'"}],"mark":{"type":"text","dx":-14,"dy":1,"font":"Liberation Sans","fontSize":16,"fontWeight":"bold","align":"left","baseline":"alphabetic","color":"#111"},"encoding":{"x":{"datum":"0"},"y":{"datum":2},"text":{"value":"G2"}}}]},
{"width":74,"height":75,"data":{"name":"bars"},"transform":[{"filter":{"field":"panel","equal":"H2"}}],
"encoding":{"x":{"field":"cat","type":"nominal","scale":{"paddingInner":0,"paddingOuter":0},"axis":{"title":null}},"y":{"field":"v","type":"quantitative","scale":{"domain":[0,1],"nice":false},"axis":{"values":[0,0.5,1],"labelExpr":"'' + datum.value","title":null}}},
"layer":[{"mark":{"type":"bar","width":{"band":0.28},"color":"#3d3d3d"}},{"transform":[{"filter":"datum.err > 0"}],"mark":{"type":"errorbar","ticks":true,"size":4,"thickness":1,"color":"#111"},"encoding":{"yError":{"field":"err"}}},{"transform":[{"filter":"datum.cat === '0'"}],"mark":{"type":"text","dx":-14,"dy":1,"font":"Liberation Sans","fontSize":16,"fontWeight":"bold","align":"left","baseline":"alphabetic","color":"#111"},"encoding":{"x":{"datum":"0"},"y":{"datum":1},"text":{"value":"H2"}}}]},
{"width":74,"height":75,"data":{"name":"bars"},"transform":[{"filter":{"field":"panel","equal":"I2"}}],
"encoding":{"x":{"field":"cat","type":"nominal","scale":{"paddingInner":0,"paddingOuter":0},"axis":{"title":null}},"y":{"field":"v","type":"quantitative","scale":{"domain":[0,1],"nice":false},"axis":{"values":[0,0.5,1],"labelExpr":"'' + datum.value","title":null}}},
"layer":[{"mark":{"type":"bar","width":{"band":0.28},"color":"#3d3d3d"}},{"transform":[{"filter":"datum.err > 0"}],"mark":{"type":"errorbar","ticks":true,"size":4,"thickness":1,"color":"#111"},"encoding":{"yError":{"field":"err"}}},{"transform":[{"filter":"datum.cat === '0'"}],"mark":{"type":"text","dx":-14,"dy":1,"font":"Liberation Sans","fontSize":16,"fontWeight":"bold","align":"left","baseline":"alphabetic","color":"#111"},"encoding":{"x":{"datum":"0"},"y":{"datum":1},"text":{"value":"I2"}}}]},
{"width":74,"height":75,"title":{"text":"DNA breaks","orient":"right","angle":0,"align":"right","baseline":"middle","anchor":"middle","offset":4,"fontSize":11.5,"fontWeight":"normal","color":"#222"},"data":{"name":"bars"},"transform":[{"filter":{"field":"panel","equal":"J2"}}],
"encoding":{"x":{"field":"cat","type":"nominal","scale":{"paddingInner":0,"paddingOuter":0},"axis":{"title":null}},"y":{"field":"v","type":"quantitative","scale":{"domain":[0,4],"nice":false},"axis":{"values":[0,2,4],"labelExpr":"'' + datum.value","title":null}}},
"layer":[{"mark":{"type":"bar","width":{"band":0.28},"color":"#3d3d3d"}},{"transform":[{"filter":"datum.err > 0"}],"mark":{"type":"errorbar","ticks":true,"size":4,"thickness":1,"color":"#111"},"encoding":{"yError":{"field":"err"}}},{"transform":[{"filter":"datum.cat === '0'"}],"mark":{"type":"text","dx":-14,"dy":1,"font":"Liberation Sans","fontSize":16,"fontWeight":"bold","align":"left","baseline":"alphabetic","color":"#111"},"encoding":{"x":{"datum":"0"},"y":{"datum":4},"text":{"value":"J2"}}}]},

{"width":74,"height":75,"data":{"name":"bars"},"transform":[{"filter":{"field":"panel","equal":"F3"}}],
"encoding":{"x":{"field":"cat","type":"nominal","scale":{"paddingInner":0,"paddingOuter":0},"axis":{"title":"Time (hr)","titlePadding":4}},"y":{"field":"v","type":"quantitative","scale":{"domain":[0,20],"nice":false},"axis":{"values":[0,10,20],"labelExpr":"'' + datum.value","title":"Fold induction"}}},
"layer":[{"mark":{"type":"bar","width":{"band":0.28},"color":"#4863b8"}},{"transform":[{"filter":"datum.err > 0"}],"mark":{"type":"errorbar","ticks":true,"size":4,"thickness":1,"color":"#111"},"encoding":{"yError":{"field":"err"}}},{"transform":[{"filter":"datum.cat === '0'"}],"mark":{"type":"text","dx":-14,"dy":1,"font":"Liberation Sans","fontSize":16,"fontWeight":"bold","align":"left","baseline":"alphabetic","color":"#111"},"encoding":{"x":{"datum":"0"},"y":{"datum":20},"text":{"value":"F3"}}}]},
{"width":74,"height":75,"data":{"name":"bars"},"transform":[{"filter":{"field":"panel","equal":"G3"}}],
"encoding":{"x":{"field":"cat","type":"nominal","scale":{"paddingInner":0,"paddingOuter":0},"axis":{"title":"Time (hr)","titlePadding":4}},"y":{"field":"v","type":"quantitative","scale":{"domain":[0,20],"nice":false},"axis":{"values":[0,10,20],"labelExpr":"'' + datum.value","title":null}}},
"layer":[{"mark":{"type":"bar","width":{"band":0.28},"color":"#4863b8"}},{"transform":[{"filter":"datum.err > 0"}],"mark":{"type":"errorbar","ticks":true,"size":4,"thickness":1,"color":"#111"},"encoding":{"yError":{"field":"err"}}},{"transform":[{"filter":"datum.cat === '0'"}],"mark":{"type":"text","dx":-14,"dy":1,"font":"Liberation Sans","fontSize":16,"fontWeight":"bold","align":"left","baseline":"alphabetic","color":"#111"},"encoding":{"x":{"datum":"0"},"y":{"datum":20},"text":{"value":"G3"}}}]},
{"width":74,"height":75,"data":{"name":"bars"},"transform":[{"filter":{"field":"panel","equal":"H3"}}],
"encoding":{"x":{"field":"cat","type":"nominal","scale":{"paddingInner":0,"paddingOuter":0},"axis":{"title":"Time (hr)","titlePadding":4}},"y":{"field":"v","type":"quantitative","scale":{"domain":[0,20],"nice":false},"axis":{"values":[0,10,20],"labelExpr":"'' + datum.value","title":null}}},
"layer":[{"mark":{"type":"bar","width":{"band":0.28},"color":"#4863b8"}},{"transform":[{"filter":"datum.err > 0"}],"mark":{"type":"errorbar","ticks":true,"size":4,"thickness":1,"color":"#111"},"encoding":{"yError":{"field":"err"}}},{"transform":[{"filter":"datum.cat === '0'"}],"mark":{"type":"text","dx":-14,"dy":1,"font":"Liberation Sans","fontSize":16,"fontWeight":"bold","align":"left","baseline":"alphabetic","color":"#111"},"encoding":{"x":{"datum":"0"},"y":{"datum":20},"text":{"value":"H3"}}}]},
{"width":74,"height":75,"data":{"name":"bars"},"transform":[{"filter":{"field":"panel","equal":"I3"}}],
"encoding":{"x":{"field":"cat","type":"nominal","scale":{"paddingInner":0,"paddingOuter":0},"axis":{"title":"Time (hr)","titlePadding":4}},"y":{"field":"v","type":"quantitative","scale":{"domain":[0,20],"nice":false},"axis":{"values":[0,10,20],"labelExpr":"'' + datum.value","title":null}}},
"layer":[{"mark":{"type":"bar","width":{"band":0.28},"color":"#4863b8"}},{"transform":[{"filter":"datum.err > 0"}],"mark":{"type":"errorbar","ticks":true,"size":4,"thickness":1,"color":"#111"},"encoding":{"yError":{"field":"err"}}},{"transform":[{"filter":"datum.cat === '0'"}],"mark":{"type":"text","dx":-14,"dy":1,"font":"Liberation Sans","fontSize":16,"fontWeight":"bold","align":"left","baseline":"alphabetic","color":"#111"},"encoding":{"x":{"datum":"0"},"y":{"datum":20},"text":{"value":"I3"}}}]},
{"width":74,"height":75,"title":{"text":"Unmethylated DNA","orient":"right","angle":0,"align":"right","baseline":"middle","anchor":"middle","offset":4,"fontSize":11.5,"fontWeight":"normal","color":"#222"},"data":{"name":"bars"},"transform":[{"filter":{"field":"panel","equal":"J3"}}],
"encoding":{"x":{"field":"cat","type":"nominal","scale":{"paddingInner":0,"paddingOuter":0},"axis":{"title":"Time (hr)","titlePadding":4}},"y":{"field":"v","type":"quantitative","scale":{"domain":[0,20],"nice":false},"axis":{"values":[0,10,20],"labelExpr":"'' + datum.value","title":null}}},
"layer":[{"mark":{"type":"bar","width":{"band":0.28},"color":"#4863b8"}},{"transform":[{"filter":"datum.err > 0"}],"mark":{"type":"errorbar","ticks":true,"size":4,"thickness":1,"color":"#111"},"encoding":{"yError":{"field":"err"}}},{"transform":[{"filter":"datum.cat === '0'"}],"mark":{"type":"text","dx":-14,"dy":1,"font":"Liberation Sans","fontSize":16,"fontWeight":"bold","align":"left","baseline":"alphabetic","color":"#111"},"encoding":{"x":{"datum":"0"},"y":{"datum":20},"text":{"value":"J3"}}}]}
]}
],
"spacing":20,
"resolve":{"scale":{"color":"independent"}},
"config":{
"view":{"stroke":null},
"font":"Open Sans",
"axis":{"grid":false,"labelFont":"Open Sans","labelFontSize":8,"labelColor":"#333","domainColor":"#8c8c8c","domainWidth":1.4,"tickColor":"#8c8c8c","tickSize":3,"labelPadding":1,"titleFont":"Open Sans","titleFontSize":13,"titleFontWeight":"normal","titleColor":"#222","titlePadding":2},
"axisBand":{"tickBand":"extent","labelAngle":0,"domainColor":"#3a3a3a","tickColor":"#3a3a3a","domainWidth":1.2,"labelFontSize":9,"labelPadding":2},
"title":{"font":"Open Sans","fontSize":10.5,"fontWeight":"bold","color":"#111","frame":"group","offset":1,"lineHeight":13},
"legend":{"orient":"right","offset":4,"titleFont":"Open Sans","titleFontSize":13,"titleFontWeight":"normal","titleColor":"#222","titlePadding":4,"labelFont":"Open Sans","labelFontSize":12.5,"labelColor":"#222","symbolType":"M-1,0H1M0.35,0A0.35,0.35,0,1,1,-0.35,0A0.35,0.35,0,1,1,0.35,0","symbolSize":220,"symbolStrokeWidth":2.5,"rowPadding":1,"labelOffset":3},
"line":{"interpolate":"catmull-rom","strokeWidth":1.7,"clip":true},
"point":{"filled":true,"size":12,"opacity":1}
}
}
